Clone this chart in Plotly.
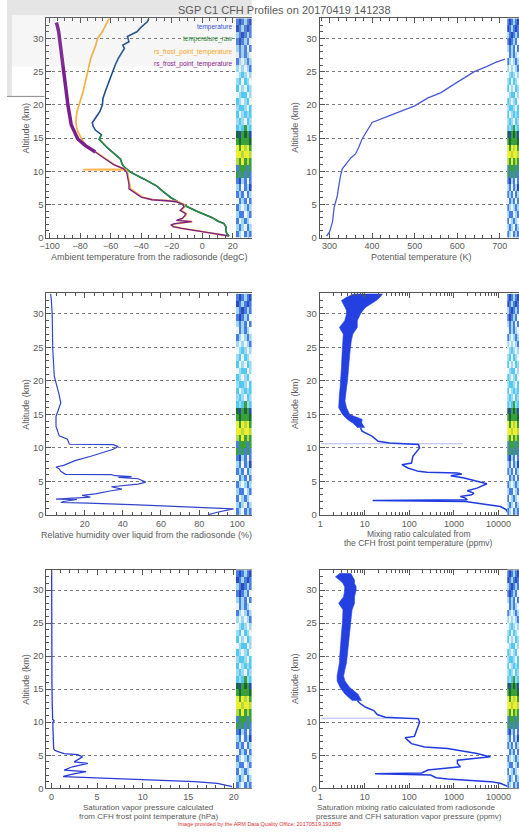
import plotly.graph_objects as go

W, H = 519, 833
AX = '#555555'
TXT = '#5a5a5a'
FONT = 'Liberation Sans, Arial, sans-serif'

# ---------------- data ----------------
# Panel 1: temperatures (degC) vs altitude (km)
temp_alt = [0.2, 0.6, 1.1, 1.6, 2.1, 2.5, 3.0, 4.0, 5.1, 6.0, 7.0, 7.8, 8.8, 9.85, 10.6,
            11.1, 11.8, 12.5, 13.5, 14.8, 15.5, 16.2, 16.8, 17.3, 18.0, 19.0, 20.0, 21.0,
            22.0, 23.0, 24.0, 25.0, 26.0, 27.0, 28.0, 28.5, 29.0, 29.5, 30.3, 31.0, 31.7,
            32.5, 33.0]
temperature = [17.5, 16, 15.3, 15.5, 14.2, 10, 6.5, -4, -13.8, -20.5, -26, -30, -38, -47, -51,
               -52.5, -53.5, -57, -62, -67.5, -66, -70, -71.5, -72, -69.7, -67, -65.4, -65,
               -63.5, -62, -60.5, -59, -57, -55, -52.5, -51, -52, -48, -49, -42.8, -40,
               -36, -35]
raw_top_km = 16.0

fp_rs_alt = [0.2, 0.35, 0.7, 1.1, 1.4, 1.65, 1.9, 2.1, 2.4, 2.6, 2.9, 3.3, 3.6, 4.1, 4.6,
             5.0, 5.4, 5.55, 5.7, 6.1, 6.85, 7.35, 8.0, 8.6, 9.2, 9.85, 10.2, 10.25, 10.3,
             10.35, 11.0, 11.85, 12.9, 13.85, 14.85, 16, 17, 18, 19, 20, 22, 25, 27, 29,
             30, 31, 32, 33]
fp_rs = [16, 14, 5, -7.3, -13, -19, -20, -17, -6.5, -16, -13, -11, -10.5, -14, -11.6,
         -12, -16, -22, -32, -39.5, -44, -47, -47.5, -48, -48.5, -49, -50, -78, -51,
         -51, -58, -63, -69.7, -76, -79, -81.5, -82.6, -82.6, -82, -80.5, -78, -75, -73, -69.7,
         -68.6, -65.4, -63, -61]

fp_cfh_alt = [0.2, 0.35, 0.7, 1.1, 1.4, 1.65, 1.9, 2.1, 2.4, 2.6, 2.9, 3.3, 3.6, 4.1, 4.6,
              5.0, 5.4, 5.55, 5.7, 6.1, 6.85, 7.35, 8.0, 8.6, 9.2, 9.85, 10.35, 11.0, 11.85,
              12.9, 13.85, 14.85, 16, 17, 18, 19, 20, 21, 22, 23, 24, 25, 26, 27, 28, 29, 30,
              31, 32, 32.4]
fp_cfh = [17, 14.5, 5, -7.5, -13.5, -19, -20.5, -18, -7, -17, -13, -11.5, -10.8, -14.5, -12,
          -12.5, -17, -23, -33, -40, -45, -48, -48, -48.5, -49, -49.5, -51.5, -58, -63.5,
          -70, -76.5, -81.5, -84, -85.8, -86.5, -87.5, -88, -88.5, -89, -89.8, -90.5, -91,
          -91.5, -92, -92.5, -93, -93.4, -94, -95, -95.5]
cfh_thick_from_km = 12.9

# Panel 2: potential temperature (K)
theta_alt = [0.2, 0.85, 1.5, 2.35, 3.5, 4.6, 5.5, 6.35, 7.5, 8.5, 9.35, 10.35, 11.35, 12.0,
             12.6, 13.5, 14.85, 16.0, 17.35, 18.3, 19.0, 19.85, 21.0, 21.85, 23.0, 24.3,
             25.0, 25.8, 26.4, 26.9]
theta = [293, 300, 303, 307, 309, 311, 315, 318.5, 321, 323, 326, 330, 341.7, 350, 361, 368,
         376.5, 388, 400, 438, 465, 500, 530, 562, 590, 624, 640, 670, 690, 712]

# Panel 3: relative humidity over liquid (%)
rh_alt = [0.05, 0.4, 0.9, 1.1, 1.25, 1.5, 1.75, 1.85, 2.0, 2.3, 2.35, 2.65, 2.9, 3.15, 3.6,
          3.85, 4.2, 4.6, 4.9, 5.4, 5.6, 5.7, 5.85, 6.0, 6.05, 6.5, 6.9, 7.15, 7.4, 8.1, 8.8,
          9.4, 9.8, 10.2, 10.5, 10.55, 11.3, 11.8, 12.5, 13.2, 14.7, 16.0, 16.7, 18.0, 19.5,
          20.7, 24.7, 27.7, 30.0, 32.3, 33.0]
rh = [85, 89.5, 98, 82.6, 72, 48, 22, 7.5, 9, 16, 5, 23, 18.7, 25.6, 34, 39.5, 34, 48, 52,
      48, 37.7, 44.6, 36, 34, 10, 7.5, 6.6, 5, 9, 15, 23.7, 31, 35, 37.5, 35, 12, 11, 6.7, 6,
      5, 5, 6.4, 7.5, 6.6, 5, 4.1, 3.3, 3.3, 3, 2.5, 2.2]

# Panel 4: mixing ratio from CFH frost point (ppmv)
mr_alt = [0.15, 0.75, 1.25, 1.5, 1.75, 2.0, 2.15, 2.25, 2.5, 2.75, 3.0, 3.25, 3.6, 4.0, 4.65,
          5.0, 5.5, 5.85, 6.1, 6.25, 6.35, 6.5, 7.0, 7.5, 7.75, 8.75, 10.0, 10.5, 10.75, 11.0,
          11.75, 12.5, 13.0]
mr = [16600, 15100, 11000, 6000, 3300, 1800, 15, 2000, 1800, 1400, 2500, 2800, 2000, 3300,
      5500, 3300, 1700, 850, 1500, 1200, 250, 160, 93, 68, 112, 120, 170, 160, 36, 20, 14.5,
      8.7, 8]
mr_band_alt = [13.0, 13.75, 14.25, 15, 16, 17, 18, 19, 20, 22, 24, 26, 27, 28, 29, 30, 30.5,
               31, 31.5, 32, 32.5, 33]
mr_band_lo = [7.0, 5.3, 4.1, 3.17, 2.6, 2.6, 2.7, 2.8, 2.9, 3.0, 3.1, 3.2, 3.3, 2.7,
              3.55, 3.9, 3.9, 3.6, 3.3, 3.0, 3.9, 5.7]
mr_band_hi = [10.0, 8.5, 8.8, 4.6, 3.9, 3.6, 3.75, 3.9, 4.1, 4.4, 4.6, 5.0, 5.4, 6.8,
              6.8, 8.0, 9.0, 10.5, 14, 18, 22, 25]
mr_spike_alt = [10.62, 10.62]
mr_spike = [1.05, 1600]

# Panel 5: saturation vapour pressure (hPa)
svp_alt = [0.25, 0.75, 1.0, 1.25, 1.45, 1.65, 1.75, 1.85, 2.2, 2.5, 2.75, 3.25, 3.75, 4.0,
           4.4, 4.75, 5.1, 5.25, 5.5, 5.75, 6.0, 7.0, 8.0, 9.0, 10.0, 10.2, 10.4, 11.0, 13.0,
           16.0, 20.0, 25.0, 30.0, 33.0]
svp = [19.8, 18.2, 15.7, 11.4, 7.0, 3.4, 1.3, 1.4, 2.6, 3.8, 1.4, 2.3, 4.0, 2.5, 3.0, 3.4,
       2.9, 1.4, 0.8, 0.36, 0.25, 0.2, 0.18, 0.17, 0.16, 0.3, 0.14, 0.12, 0.09, 0.06, 0.05,
       0.04, 0.03, 0.03]

# Panel 6: saturation mixing ratio (ppmv)
smr_alt = [0.25, 0.75, 1.0, 1.2, 1.4, 1.6, 2.0, 2.2, 2.3, 2.75, 3.0, 3.25, 3.75, 4.25, 4.5,
           4.75, 5.25, 5.65, 6.0, 6.25, 6.75, 7.25, 7.65, 7.85, 8.75, 10.0, 10.5, 10.75,
           11.15, 11.75, 12.25, 12.75, 13.25]
smr = [16600, 11000, 6600, 2000, 720, 400, 300, 17, 190, 260, 720, 1400, 1200, 1200, 2800,
       6600, 3300, 1400, 720, 220, 112, 93, 80, 130, 145, 170, 160, 29, 19, 16, 10.5, 8.1, 6.8]
smr_band_alt = [13.25, 14.25, 15.25, 16.25, 17, 18, 19, 20, 21, 22, 23, 24, 25, 26, 27, 28,
                29, 30, 30.5, 31, 31.5, 32, 32.5]
smr_band_lo = [5.3, 3.6, 2.8, 2.4, 2.4, 2.55, 2.7, 2.75, 2.85, 2.95, 2.95, 3.05, 3.15,
               3.25, 3.25, 2.6, 3.35, 3.55, 3.55, 3.25, 2.75, 2.2, 2.75]
smr_band_hi = [8.5, 7.0, 4.6, 3.6, 3.35, 3.6, 3.9, 4.1, 4.25, 4.4, 4.4, 4.6, 4.85, 5.0,
               5.2, 5.9, 5.9, 6.4, 6.4, 5.9, 5.9, 5.5, 4.9]
smr_spike_alt = [10.6, 10.6]
smr_spike = [1.05, 160]

# Side strip (neighbouring image) colour codes, one row per km from 0 km upward
strip_rows = ["310313", "131031", "301310", "133013", "310131", "031303", "313031",
              "130314", "341303", "535353", "355535", "857585", "778778", "757875",
              "565556", "645654", "212512", "121021", "201212", "122102", "210120",
              "012201", "201021", "120210", "012101", "101013", "310131", "031310",
              "131303", "343130", "134313", "431343", "343134"]
strip_colors = ['#eaf6fc', '#9fd8f3', '#52c9ef', '#4a7de3', '#2a4cb8', '#3aa03a', '#1a6a30',
                '#eeee30', '#b8d840']

legend_names = ["temperature", "temperature_raw", "rs_frost_point_temperature",
                "rs_frost_point_temperature"]
legend_colors = ['#3b4fd8', '#2f8a3a', '#f5a623', '#8b1a8b']

# ---------------- layout geometry ----------------
row_px = {1: (18, 239), 2: (295, 518), 3: (573, 793)}
col_px = {1: (40, 248), 2: (317, 519)}
strip_px = {1: (232, 248), 2: (507, 519)}
panel_pos = {1: (1, 1), 2: (1, 2), 3: (2, 1), 4: (2, 2), 5: (3, 1), 6: (3, 2)}
YRANGE = [0, 33.1]


def ydom(r):
    t, b = row_px[r]
    return [1 - b / H, 1 - t / H]


def xdom_px(a, b):
    return [a / W, min(b / W, 1.0)]


fig = go.Figure()


def line(x, y, ax, color, width=1.2, opacity=1.0):
    fig.add_trace(go.Scatter(x=x, y=y, mode='lines', xaxis='x' + ax, yaxis='y' + ax,
                             line=dict(color=color, width=width), opacity=opacity,
                             hoverinfo='skip', showlegend=False))


def band(alt, lo, hi, ax, color):
    fig.add_trace(go.Scatter(x=list(lo) + list(hi)[::-1], y=list(alt) + list(alt)[::-1],
                             mode='lines', fill='toself', fillcolor=color,
                             line=dict(color=color, width=0.6),
                             xaxis='x' + ax, yaxis='y' + ax, hoverinfo='skip',
                             showlegend=False))


# Panel 1
line(temperature, temp_alt, '1', '#1e4f8a', 1.6)
raw_idx = [i for i, a in enumerate(temp_alt) if a <= raw_top_km]
line([temperature[i] for i in raw_idx], [temp_alt[i] for i in raw_idx], '1', '#2a8c3c', 1.5)
line(fp_rs, fp_rs_alt, '1', '#f8b44c', 1.8)
lo_idx = [i for i, a in enumerate(fp_cfh_alt) if a <= cfh_thick_from_km]
hi_idx = [i for i, a in enumerate(fp_cfh_alt) if a >= cfh_thick_from_km]
line([fp_cfh[i] for i in lo_idx], [fp_cfh_alt[i] for i in lo_idx], '1', '#7b1f8e', 1.3)
line([fp_cfh[i] for i in hi_idx], [fp_cfh_alt[i] for i in hi_idx], '1', '#7b1f8e', 3.5)

# Panel 2
line(theta, theta_alt, '2', '#4a5ad8', 1.3)

# Panel 3
line(rh, rh_alt, '3', '#3344cc', 1.2)

# Panel 4
line(mr_spike, mr_spike_alt, '4', '#b0b8f2', 1.0)
line(mr, mr_alt, '4', '#1f3be0', 1.5)
band(mr_band_alt, mr_band_lo, mr_band_hi, '4', '#2440e0')

# Panel 5
line(svp, svp_alt, '5', '#2a3ad8', 1.3)

# Panel 6
line(smr_spike, smr_spike_alt, '6', '#b0b8f2', 1.0)
line(smr, smr_alt, '6', '#1f3be0', 1.5)
band(smr_band_alt, smr_band_lo, smr_band_hi, '6', '#2440e0')

# side strips
n_codes = len(strip_colors)
cscale = []
for i, c in enumerate(strip_colors):
    cscale.append([i / n_codes, c])
    cscale.append([(i + 1) / n_codes, c])
strip_z = [[int(ch) for ch in row] for row in strip_rows]
strip_y = [i + 0.5 for i in range(len(strip_rows))]
strip_x = list(range(len(strip_rows[0])))
for p in range(1, 7):
    ax = str(p + 6)
    fig.add_trace(go.Heatmap(z=strip_z, x=strip_x, y=strip_y, colorscale=cscale,
                             zmin=-0.5, zmax=n_codes - 0.5, showscale=False,
                             hoverinfo='skip', xaxis='x' + ax, yaxis='y' + ax))

# ---------------- axes ----------------
xcfg = {
    1: dict(range=[-102, 32.3], tickvals=[-100, -80, -60, -40, -20, 0, 20], minor_dtick=5),
    2: dict(range=[277, 745], tickvals=[300, 400, 500, 600, 700], minor_dtick=20),
    3: dict(range=[0, 107.5], tickvals=[20, 40, 60, 80, 100], minor_dtick=5),
    4: dict(range=[-0.01, 4.46], tickvals=[1, 10, 100, 1000, 10000], log=True),
    5: dict(range=[-0.54, 21.95], tickvals=[0, 5, 10, 15, 20], minor_dtick=1),
    6: dict(range=[-0.01, 4.46], tickvals=[1, 10, 100, 1000, 10000], log=True),
}
log_minor = [m * 10 ** e for e in range(0, 5) for m in range(2, 10)]

layout_axes = {}
for p, (r, c) in panel_pos.items():
    cfg = xcfg[p]
    xa = dict(domain=xdom_px(*col_px[c]), range=cfg['range'], anchor='y' + str(p),
              tickvals=cfg['tickvals'], ticks='inside', ticklen=5, tickcolor=AX,
              showline=True, linecolor=AX, linewidth=1, mirror='ticks', showgrid=False,
              zeroline=False, tickfont=dict(size=9, color=TXT, family=FONT))
    if cfg.get('log'):
        xa['type'] = 'log'
        xa['ticktext'] = [str(v) for v in cfg['tickvals']]
        xa['minor'] = dict(tickvals=log_minor, ticks='inside', ticklen=3, tickcolor=AX,
                           showgrid=False)
    else:
        xa['minor'] = dict(dtick=cfg['minor_dtick'], ticks='inside', ticklen=3,
                           tickcolor=AX, showgrid=False)
    ya = dict(domain=ydom(r), range=YRANGE, anchor='x' + str(p),
              tickvals=[0, 5, 10, 15, 20, 25, 30], ticks='inside', ticklen=5, tickcolor=AX,
              showline=True, linecolor=AX, linewidth=1, mirror=False,
              showgrid=True, gridcolor='#7a7a7a', griddash='dot', gridwidth=1,
              zeroline=False, tickfont=dict(size=9.5, color=TXT, family=FONT),
              minor=dict(dtick=1, ticks='inside', ticklen=3, tickcolor=AX, showgrid=False))
    key = '' if p == 1 else str(p)
    layout_axes['xaxis' + key] = xa
    layout_axes['yaxis' + key] = ya
    s = str(p + 6)
    layout_axes['xaxis' + s] = dict(domain=xdom_px(*strip_px[c]),
                                    range=[-0.5, len(strip_x) - 0.5],
                                    visible=False, anchor='y' + s, fixedrange=True)
    layout_axes['yaxis' + s] = dict(domain=ydom(r), range=YRANGE, visible=False,
                                    anchor='x' + s, fixedrange=True)

# ---------------- annotations ----------------
annotations = []


def ann(text, x, y, size=9, color=TXT, xanchor='center', angle=0, align='center'):
    annotations.append(dict(text=text, x=x / W, y=1 - y / H, xref='paper', yref='paper',
                            showarrow=False, xanchor=xanchor, yanchor='middle',
                            textangle=angle, align=align, borderpad=0,
                            font=dict(size=size, color=color, family=FONT)))


ann("SGP C1 CFH Profiles on 20170419 141238", 281, 10, size=11)
ann("Ambient temperature from the radiosonde (degC)", 144, 259, size=9)
ann("Potential temperature (K)", 420, 259, size=9)
ann("Relative humidity over liquid from the radiosonde (%)", 141, 538, size=9)
ann("Mixing ratio calculated from", 417, 537, size=8.5)
ann("the CFH frost point temperature (ppmv)", 417, 546, size=8.5)
ann("Saturation vapor pressure calculated", 143, 812.5, size=8)
ann("from CFH frost point temperature (hPa)", 143, 821.5, size=8)
ann("Saturation mixing ratio calculated from radiosonde", 313, 812.5, size=8,
    xanchor='left')
ann("pressure and CFH saturation vapor pressure (ppmv)", 312, 821.5, size=8,
    xanchor='left')
for r in (1, 2, 3):
    yc = sum(row_px[r]) / 2
    ann("Altitude (km)", 19, yc, size=9, angle=-90)
    ann("Altitude (km)", 292, yc, size=9, angle=-90)
for i, (name, col) in enumerate(zip(legend_names, legend_colors)):
    annotations.append(dict(text=name, x=230 / W, y=1 - (27 + 12.5 * i) / H, xref='paper',
                            yref='paper', showarrow=False, xanchor='right', yanchor='middle',
                            font=dict(size=6.5, color=col, family=FONT)))
ann("Image provided by the ARM Data Quality Office: 20170519.191859", 256, 829, size=5.5,
    color='#e03030')

# ---------------- overlay (screen artefact at top-left) ----------------
shapes = [
    dict(type='rect', xref='paper', yref='paper', x0=0, x1=248 / W, y0=1 - 15 / H, y1=1,
         fillcolor='rgba(170,170,170,0.30)', line=dict(width=0), layer='above'),
    dict(type='rect', xref='paper', yref='paper', x0=5 / W, x1=248 / W, y0=1 - 67 / H,
         y1=1 - 15 / H, fillcolor='rgba(170,170,170,0.11)', line=dict(width=0),
         layer='above'),
    dict(type='rect', xref='paper', yref='paper', x0=0, x1=5 / W, y0=1 - 97 / H,
         y1=1 - 15 / H, fillcolor='rgba(170,170,170,0.30)', line=dict(width=0),
         layer='above'),
    dict(type='line', xref='paper', yref='paper', x0=0, x1=38 / W, y0=1 - 97 / H,
         y1=1 - 97 / H, line=dict(color='#8a8a8a', width=1), layer='above'),
]

fig.update_layout(width=W, height=H, margin=dict(l=0, r=0, t=0, b=0),
                  paper_bgcolor='white', plot_bgcolor='white', showlegend=False,
                  font=dict(family=FONT, color=TXT), annotations=annotations,
                  shapes=shapes, **layout_axes)

fig.write_html("out.html", config={'displayModeBar': False})
